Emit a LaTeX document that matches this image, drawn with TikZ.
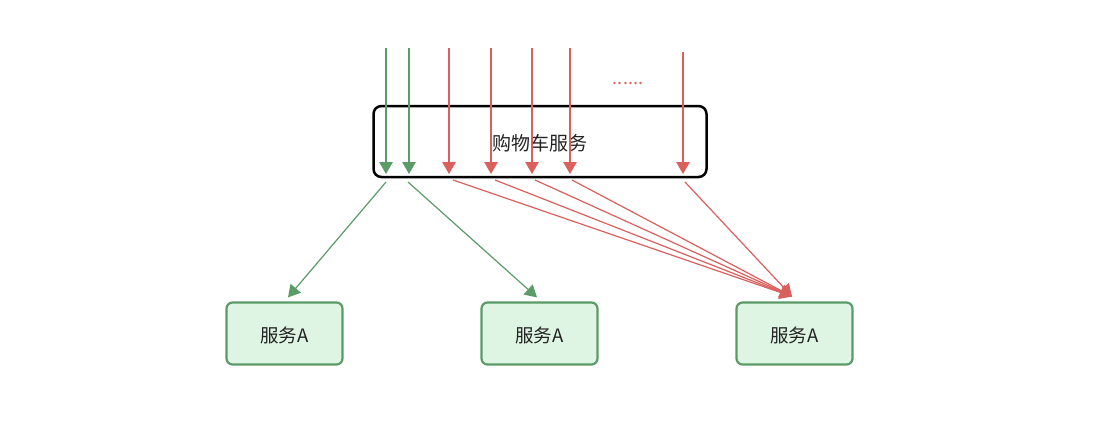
\documentclass[tikz,border=0pt]{standalone}
\usepackage{fontspec}
\setmainfont{Noto Sans CJK SC}
\usetikzlibrary{arrows.meta}
\definecolor{gline}{HTML}{5A9B68}
\definecolor{rline}{HTML}{D9605C}
\definecolor{gfill}{HTML}{DFF5E3}
\definecolor{txt}{HTML}{222222}
\tikzset{
  svc/.style={draw=gline, fill=gfill, line width=2.2pt, rounded corners=6pt, minimum width=116pt, minimum height=62pt},
  cartbox/.style={draw=black, line width=2.5pt, rounded corners=8pt, minimum width=333pt, minimum height=71pt},
  garr/.style={draw=gline, line width=1.2pt, -{Triangle[width=13.5pt,length=12pt]}},
  rarr/.style={draw=rline, line width=1.2pt, -{Triangle[width=13.5pt,length=12pt]}},
}
\begin{document}
\begin{tikzpicture}[x=1pt,y=-1pt]
\useasboundingbox (0,0) rectangle (1095,439);
\node[cartbox] (cart) at (540,141.5) {};
\node[text=txt, font=\fontsize{19}{22}\selectfont] (cartlabel) at (540,143.5) {购物车服务};
\node[svc] (a1) at (284.5,333.5) {};
\node[svc] (a2) at (539.5,333.5) {};
\node[svc] (a3) at (794.5,333.5) {};
\foreach \b in {a1,a2,a3}{
  \node[text=txt, font=\fontsize{18.5}{21}\selectfont] (\b label) at ([yshift=-2pt]\b.center) {服务A};
}
\node[text=rline, font=\fontsize{18}{20}\selectfont] (dots) at (628,83) {......};
% incoming arrows
\foreach \n/\x/\y in {g1/386/48, g2/409/48}{
  \coordinate (\n s) at (\x,\y);
  \coordinate (\n e) at (\x,174);
  \draw[garr] (\n s) -- (\n e);
}
\foreach \n/\x/\y in {r1/449/48, r2/491/48, r3/532/48, r4/570/48, r5/683/52}{
  \coordinate (\n s) at (\x,\y);
  \coordinate (\n e) at (\x,174);
  \draw[rarr] (\n s) -- (\n e);
}
% outgoing arrows
\coordinate (o1) at (386,182);
\coordinate (o2) at (408,182);
\draw[garr] (o1) -- ([xshift=3.5pt,yshift=4pt]a1.north);
\draw[garr] (o2) -- ([xshift=-2.5pt,yshift=4pt]a2.north);
\foreach \n/\x/\y in {p1/453/180, p2/495/180, p3/535/180, p4/572/180, p5/685/182}{
  \coordinate (\n) at (\x,\y);
  \draw[rarr] (\n) -- ([xshift=-2.5pt,yshift=5pt]a3.north);
}
\end{tikzpicture}
\end{document}
